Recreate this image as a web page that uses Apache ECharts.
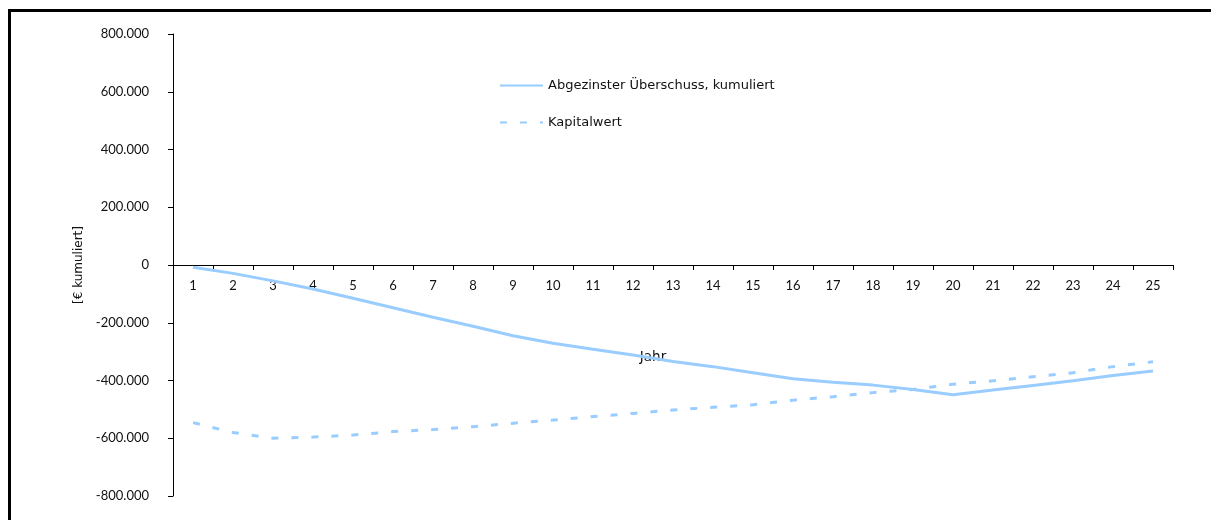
<!DOCTYPE html>
<html>
<head>
<meta charset="utf-8">
<script src="https://cdn.jsdelivr.net/npm/echarts@6/dist/echarts.min.js"></script>
<style>
html,body{margin:0;padding:0;background:#fff;}
#chart{width:1211px;height:520px;}
</style>
</head>
<body>
<div id="chart"></div>
<script>
const years = ['1','2','3','4','5','6','7','8','9','10','11','12','13','14','15','16','17','18','19','20','21','22','23','24','25'];
const ueberschuss = [-8000, -29000, -55000, -83000, -115000, -148000, -181000, -212000, -245000, -271000, -292000, -312000, -334000, -352000, -373000, -394000, -406000, -416000, -431000, -449000, -433000, -417000, -401000, -383000, -367000];
const kapitalwert = [-546000, -580000, -600000, -596000, -589000, -577000, -570000, -560000, -548000, -537000, -525000, -514000, -502000, -493000, -484000, -468000, -456000, -442000, -431000, -413000, -401000, -387000, -373000, -352000, -335000];
const seriesNames = ['Abgezinster Überschuss, kumuliert', 'Kapitalwert'];
const yAxisName = '[€ kumuliert]';
const xAxisName = 'Jahr';

function fmt(v){
  if (v === 0) return '0';
  const s = Math.abs(v).toString().replace(/\B(?=(\d{3})+(?!\d))/g, '.');
  return (v < 0 ? '-' : '') + s;
}

const FONT = 'Lato';
const TFONT = 'DejaVu Sans';
const GRID_TOP = 34, GRID_BOTTOM = 24, H = 520;
const plotH = H - GRID_TOP - GRID_BOTTOM;
const YMIN = -800000, YMAX = 800000;
// shift the category axis up to the zero line
const zeroOffset = -plotH * (0 - YMIN) / (YMAX - YMIN);

const chart = echarts.init(document.getElementById('chart'), null, {renderer:'canvas'});
chart.setOption({
  animation: false,
  backgroundColor: '#ffffff',
  textStyle: {fontFamily: FONT},
  grid: {left: 173, right: 38, top: GRID_TOP, bottom: GRID_BOTTOM, containLabel: false, outerBoundsMode: 'none'},
  legend: {
    orient: 'vertical',
    left: 499,
    top: 79,
    padding: 0,
    itemWidth: 43,
    itemHeight: 14,
    itemGap: 24,
    itemStyle: {opacity: 0},
    textStyle: {fontFamily: TFONT, fontSize: 13, color: '#111'},
    data: seriesNames
  },
  xAxis: {
    type: 'category',
    data: years,
    boundaryGap: true,
    position: 'bottom',
    offset: zeroOffset,
    name: xAxisName,
    nameLocation: 'middle',
    nameGap: 85,
    nameTextStyle: {fontFamily: TFONT, fontSize: 13.5, color: '#111', padding: [0, 40, 0, 0]},
    axisLine: {onZero: false, lineStyle: {color: '#000', width: 1}},
    axisTick: {show: true, inside: false, length: 5, alignWithLabel: false, lineStyle: {color: '#000'}},
    axisLabel: {fontFamily: FONT, fontSize: 13, color: '#111', margin: 14, interval: 0},
    splitLine: {show: false}
  },
  yAxis: {
    type: 'value',
    min: YMIN,
    max: YMAX,
    interval: 200000,
    name: yAxisName,
    nameLocation: 'middle',
    nameGap: 87,
    nameRotate: 90,
    nameTextStyle: {fontFamily: TFONT, fontSize: 12, color: '#111'},
    axisLine: {show: true, lineStyle: {color: '#000', width: 1}},
    axisTick: {show: true, inside: false, length: 5, lineStyle: {color: '#000'}},
    axisLabel: {fontFamily: FONT, fontSize: 13, color: '#111', margin: 24, formatter: fmt},
    splitLine: {show: false}
  },
  series: [
    {
      name: seriesNames[0],
      type: 'line',
      data: ueberschuss,
      symbol: 'none',
      smooth: false,
      lineStyle: {color: '#99CCFF', width: 3, type: 'solid'},
      itemStyle: {color: '#99CCFF'}
    },
    {
      name: seriesNames[1],
      type: 'line',
      data: kapitalwert,
      symbol: 'none',
      smooth: false,
      lineStyle: {color: '#99CCFF', width: 3, type: [7, 13]},
      itemStyle: {color: '#99CCFF'}
    }
  ],
  graphic: [
    {
      type: 'polyline',
      silent: true,
      shape: {points: [[9.5, 520], [9.5, 10.5], [1211, 10.5]]},
      style: {stroke: '#000', lineWidth: 3, fill: null}
    }
  ]
});
</script>
</body>
</html>
